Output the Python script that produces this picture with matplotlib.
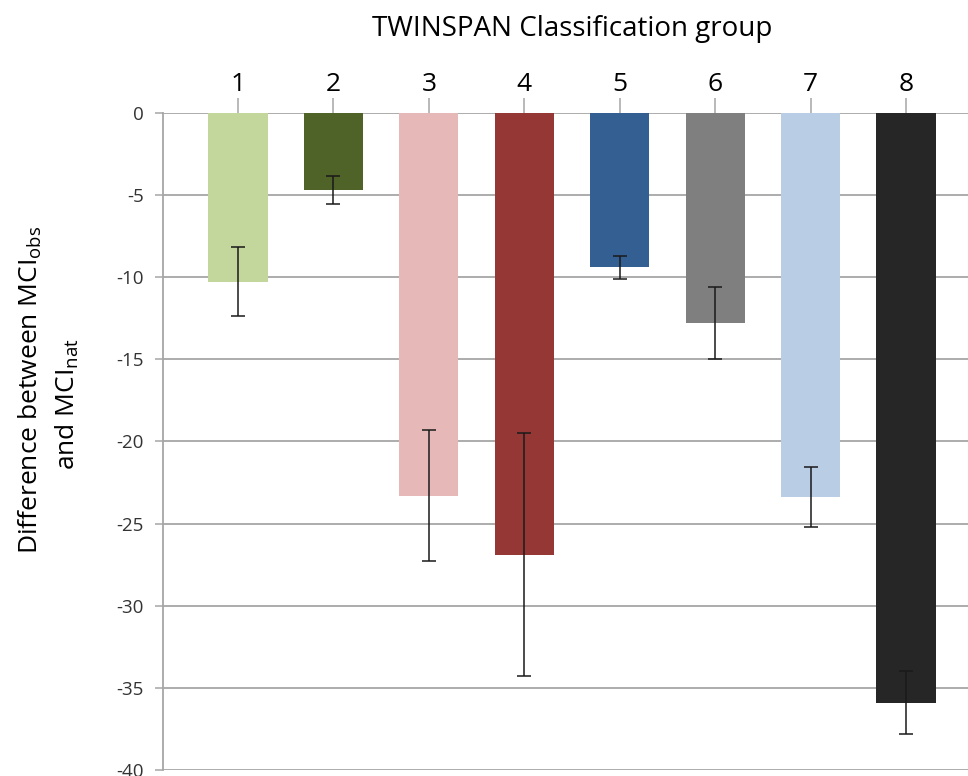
import matplotlib
matplotlib.use("Agg")
import matplotlib.pyplot as plt
import numpy as np

plt.rcParams['font.family'] = ['Open Sans', 'DejaVu Sans']
plt.rcParams['mathtext.fontset'] = 'custom'
plt.rcParams['mathtext.rm'] = 'Open Sans'

groups = ['1', '2', '3', '4', '5', '6', '7', '8']
values = [-10.3, -4.7, -23.3, -26.9, -9.4, -12.8, -23.4, -35.9]
errors = [2.1, 0.84, 4.0, 7.4, 0.69, 2.19, 1.83, 1.93]
colors = ['#c3d69b', '#4f6228', '#e6b9b8', '#953735', '#345f93', '#7f7f7f', '#b9cde5', '#262626']
yticks = [0, -5, -10, -15, -20, -25, -30, -35, -40]

fig = plt.figure(figsize=(9.68, 7.76), dpi=100)
ax = fig.add_axes([163/968, 6/776, 1 - 163/968, (770-112.7)/776])

x = np.arange(1, len(groups) + 1)
ax.set_axisbelow(True)
ax.yaxis.grid(True, color='#a6a6a6', linewidth=1.3)
ax.bar(x, values, width=0.62, color=colors, zorder=2)
ax.errorbar(x, values, yerr=errors, fmt='none', ecolor='#1a1a1a',
            elinewidth=1.1, capsize=5, capthick=1.1, zorder=3)

ax.set_ylim(-40, 0)
ax.set_xlim(0.214, 8.65)
ax.set_yticks(yticks)
ax.set_yticklabels([str(t) for t in yticks], fontsize=13.5, color='#333333')
ax.tick_params(axis='y', length=6, width=1.1, color='#a6a6a6', pad=8)

ax.set_xticks(x)
ax.set_xticklabels(groups, fontsize=19)
ax.xaxis.tick_top()
ax.tick_params(axis='x', length=11, width=1.1, color='#a6a6a6', pad=0)

for s in ['right', 'bottom', 'top']:
    ax.spines[s].set_visible(False)
ax.spines['left'].set_color('#a6a6a6')
ax.spines['left'].set_linewidth(1.3)

fig.text(572/968, 1 - 29/776, 'TWINSPAN Classification group', ha='center', va='center', fontsize=20)
fig.text(30/968, 1 - 390/776, r'Difference between MCI$_{\mathregular{obs}}$', rotation=90,
         ha='center', va='center', fontsize=19)
fig.text(67/968, 1 - 404/776, r'and MCI$_{\mathregular{nat}}$', rotation=90,
         ha='center', va='center', fontsize=19)

fig.savefig('out.png', dpi=100)
